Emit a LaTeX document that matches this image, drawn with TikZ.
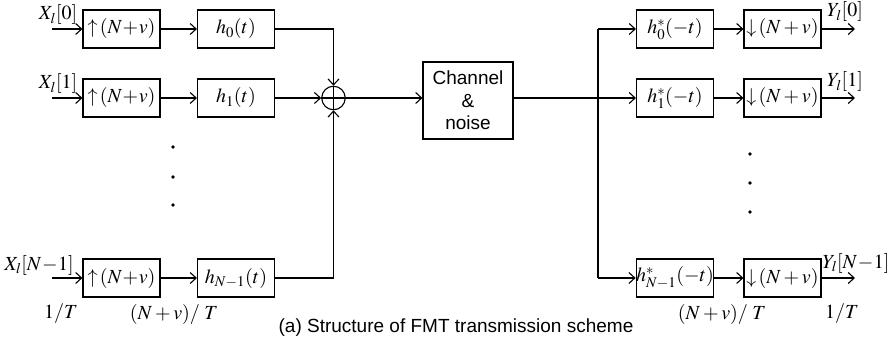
\documentclass[tikz,border=0pt]{standalone}
\usepackage{mathptmx}
\usepackage{fontspec}
\setmainfont{Liberation Serif}
\newfontfamily\capfont{Liberation Sans}
\usetikzlibrary{arrows.meta}

\begin{document}
\begin{tikzpicture}[x=1pt, y=-1pt,
  module/.style={rectangle, draw=black, line width=1.1pt, minimum width=77pt, minimum height=38pt, inner sep=0pt, align=center},
  arrow/.style={-{Straight Barb[length=6pt, width=11pt]}, line width=1.1pt},
  wire/.style={line width=1.1pt},
  lbl/.style={inner sep=0pt},
  font=\fontsize{20}{23}\selectfont
]
\useasboundingbox (0,0) rectangle (889,342);

% transmitter branches
\node[module] (up0) at (121.5,29) {$\uparrow\!(N\!+\!v)$};
\node[module] (up1) at (121.5,98) {$\uparrow\!(N\!+\!v)$};
\node[module] (up2) at (121.5,278) {$\uparrow\!(N\!+\!v)$};
\node[module] (hf0) at (236,29) {$h_0(t)$};
\node[module] (hf1) at (236,98) {$h_1(t)$};
\node[module] (hf2) at (236,278) {$h_{N-1}(t)$};

\coordinate (in0) at (52,29);
\coordinate (in1) at (52,98);
\coordinate (in2) at (52,278);
\node[lbl] (x0) at (58,15) {$X_l[0]$};
\node[lbl] (x1) at (58,84) {$X_l[1]$};
\node[lbl] (x2) at (39,265) {$X_l[N\!-\!1]$};

\draw[arrow] (in0) -- (up0);
\draw[arrow] (in1) -- (up1);
\draw[arrow] (in2) -- (up2);
\draw[arrow] (up0) -- (hf0);
\draw[arrow] (up1) -- (hf1);
\draw[arrow] (up2) -- (hf2);

% adder and channel
\node[circle, draw, line width=1.1pt, minimum size=23.5pt, inner sep=0pt] (sum) at (333.5,98) {};
\draw[wire] (sum.north) -- (sum.south) (sum.west) -- (sum.east);
\draw[arrow] (hf0.east) -| (sum.north);
\draw[arrow] (hf1.east) -- (sum.west);
\draw[arrow] (hf2.east) -| (sum.south);

\node[module, minimum width=90pt, minimum height=77pt, font=\capfont\fontsize{19}{22.5}\selectfont] (chan) at (468,100.5) {Channel\\\&\\noise};
\draw[arrow] (sum.east) -- (chan.west |- sum.east);

% receiver branches
\node[module] (hm0) at (675,29) {$h_0^*(-t)$};
\node[module] (hm1) at (675,98) {$h_1^*(-t)$};
\node[module] (hm2) at (675,278) {$h_{N-1}^*(-t)$};
\node[module] (dn0) at (782.5,29) {$\downarrow\!(N+v)$};
\node[module] (dn1) at (782.5,98) {$\downarrow\!(N+v)$};
\node[module] (dn2) at (782.5,278) {$\downarrow\!(N+v)$};

\coordinate (br0) at (598,29);
\coordinate (br2) at (598,278);
\draw[wire] (br0) -- (br2);
\draw[arrow] (chan.east |- hm1) -- (hm1);
\draw[arrow] (br0) -- (hm0);
\draw[arrow] (br2) -- (hm2);
\draw[arrow] (hm0) -- (dn0);
\draw[arrow] (hm1) -- (dn1);
\draw[arrow] (hm2) -- (dn2);

\coordinate (out0) at (855,29);
\coordinate (out1) at (855,98);
\coordinate (out2) at (855,278);
\draw[arrow] (dn0) -- (out0);
\draw[arrow] (dn1) -- (out1);
\draw[arrow] (dn2) -- (out2);
\node[lbl] (y0) at (845,12) {$Y_l[0]$};
\node[lbl] (y1) at (845,82) {$Y_l[1]$};
\node[lbl] (y2) at (856,263) {$Y_l[N\!-\!1]$};

% dots
\foreach \yy in {147,177,205} \fill (173,\yy) circle (1.8pt);
\foreach \yy in {154,183,212} \fill (750,\yy) circle (1.8pt);

% rates and caption
\node[lbl] (r0) at (61,314) {$1/T$};
\node[lbl] (r1) at (174,314) {$(N+v)/\;T$};
\node[lbl] (r2) at (722,314) {$(N+v)/\;T$};
\node[lbl] (r3) at (842,314) {$1/T$};
\node[lbl, font=\capfont\fontsize{19}{22}\selectfont] (cap) at (456,328) {(a) Structure of FMT transmission scheme};

\end{tikzpicture}
\end{document}
